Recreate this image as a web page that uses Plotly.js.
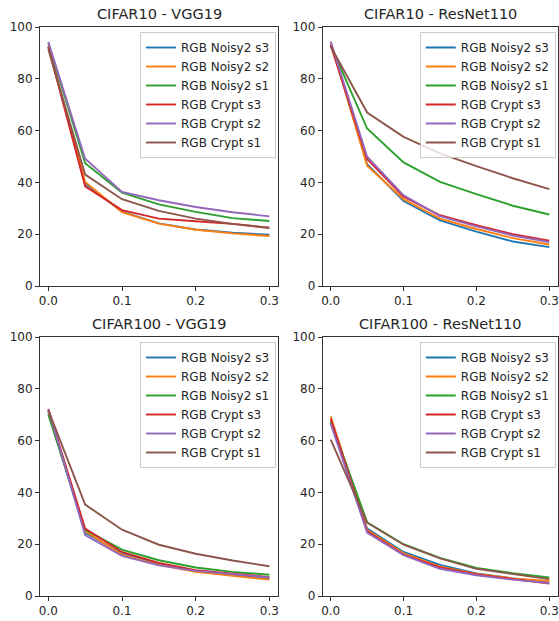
<!DOCTYPE html>
<html><head><meta charset="utf-8">
<script src="https://cdn.plot.ly/plotly-3.0.1.min.js"></script>
<style>html,body{margin:0;padding:0;background:#fff}</style>
</head><body><div id="chart" style="width:559px;height:621px"></div>
<script>
const xVals = [0, 0.05, 0.1, 0.15, 0.2, 0.25, 0.3];
const seriesNames = ["RGB Noisy2 s3","RGB Noisy2 s2","RGB Noisy2 s1","RGB Crypt s3","RGB Crypt s2","RGB Crypt s1"];
const panelTitles = ["CIFAR10 - VGG19","CIFAR10 - ResNet110","CIFAR100 - VGG19","CIFAR100 - ResNet110"];

// CIFAR10 - VGG19
const c10vgg_noisy_s3 = [92.5, 39.5, 28.7, 24.2, 21.8, 20.6, 19.8];
const c10vgg_noisy_s2 = [92.8, 40.2, 28.5, 24.1, 21.7, 20.3, 19.3];
const c10vgg_noisy_s1 = [93.8, 47.4, 36.0, 31.5, 28.6, 26.2, 25.1];
const c10vgg_crypt_s3 = [92.3, 38.5, 29.3, 26.0, 25.0, 24.0, 22.5];
const c10vgg_crypt_s2 = [94.2, 49.1, 36.3, 33.1, 30.5, 28.5, 26.9];
const c10vgg_crypt_s1 = [91.4, 43.0, 33.5, 29.0, 26.0, 24.0, 22.4];

// CIFAR10 - ResNet110
const c10res_noisy_s3 = [94.0, 47.0, 32.8, 25.3, 21.0, 17.2, 15.0];
const c10res_noisy_s2 = [94.2, 46.4, 33.5, 26.0, 22.0, 18.5, 16.0];
const c10res_noisy_s1 = [93.0, 60.8, 47.7, 40.2, 35.5, 31.0, 27.6];
const c10res_crypt_s3 = [93.0, 49.0, 34.5, 27.3, 23.5, 20.0, 17.5];
const c10res_crypt_s2 = [94.4, 49.9, 35.0, 27.0, 23.0, 19.5, 17.0];
const c10res_crypt_s1 = [92.5, 67.0, 57.6, 51.2, 46.3, 41.6, 37.4];

// CIFAR100 - VGG19
const c100vgg_noisy_s3 = [71.0, 24.5, 16.5, 12.5, 9.7, 8.0, 6.8];
const c100vgg_noisy_s2 = [71.5, 25.0, 16.0, 12.0, 9.3, 7.7, 6.3];
const c100vgg_noisy_s1 = [70.0, 25.5, 17.9, 13.8, 11.0, 9.3, 8.2];
const c100vgg_crypt_s3 = [72.0, 26.0, 17.0, 12.8, 10.0, 8.7, 7.3];
const c100vgg_crypt_s2 = [72.3, 23.5, 15.5, 11.8, 9.7, 8.5, 7.2];
const c100vgg_crypt_s1 = [71.8, 35.3, 25.6, 19.8, 16.3, 13.7, 11.5];

// CIFAR100 - ResNet110
const c100res_noisy_s3 = [67.0, 26.0, 17.0, 12.0, 8.7, 6.8, 5.3];
const c100res_noisy_s2 = [69.3, 25.5, 16.5, 11.3, 8.5, 6.8, 5.8];
const c100res_noisy_s1 = [67.5, 28.5, 20.0, 14.7, 10.8, 8.8, 7.2];
const c100res_crypt_s3 = [68.5, 25.0, 16.0, 11.0, 8.3, 6.5, 4.8];
const c100res_crypt_s2 = [66.5, 24.5, 15.8, 10.5, 8.0, 6.3, 5.0];
const c100res_crypt_s1 = [60.4, 28.3, 19.8, 14.5, 10.5, 8.5, 6.5];

const xTickVals = [0, 0.1, 0.2, 0.3];
const xTickText = ["0.0", "0.1", "0.2", "0.3"];
const yTickVals = [0, 20, 40, 60, 80, 100];

const panels = [
  [c10vgg_noisy_s3, c10vgg_noisy_s2, c10vgg_noisy_s1, c10vgg_crypt_s3, c10vgg_crypt_s2, c10vgg_crypt_s1],
  [c10res_noisy_s3, c10res_noisy_s2, c10res_noisy_s1, c10res_crypt_s3, c10res_crypt_s2, c10res_crypt_s1],
  [c100vgg_noisy_s3, c100vgg_noisy_s2, c100vgg_noisy_s1, c100vgg_crypt_s3, c100vgg_crypt_s2, c100vgg_crypt_s1],
  [c100res_noisy_s3, c100res_noisy_s2, c100res_noisy_s1, c100res_crypt_s3, c100res_crypt_s2, c100res_crypt_s1]
];
const colors = ["#1f77b4","#ff7f0e","#2ca02c","#d62728","#9467bd","#8c564b"];

const W = 559, H = 621;
// pixel boxes [left, right, top, bottom]
const boxes = [[40, 278, 27, 286],[322.7, 557.8, 27, 286],[40, 278, 337, 596],[322.7, 557.8, 337, 596]];
const xRanges = [[-0.0113, 0.3117],[-0.011, 0.3117],[-0.0113, 0.3117],[-0.011, 0.3117]];

const traces = [];
const layout = {
  width: W, height: H,
  margin: {l:0, r:0, t:0, b:0},
  paper_bgcolor: "#fff", plot_bgcolor: "#fff",
  font: {family: "DejaVu Sans", size: 12, color: "#262626"},
  annotations: []
};
panels.forEach((p, i) => {
  const n = i + 1;
  const xa = n === 1 ? "x" : "x" + n, ya = n === 1 ? "y" : "y" + n;
  const lg = n === 1 ? "legend" : "legend" + n;
  p.forEach((vals, k) => {
    traces.push({x: xVals, y: vals, type: "scatter", mode: "lines", name: seriesNames[k],
      xaxis: xa, yaxis: ya, legend: lg, line: {color: colors[k], width: 1.9}});
  });
  const b = boxes[i];
  const axCommon = {showline: true, mirror: true, linecolor: "#333", linewidth: 1, ticks: "outside",
    ticklen: 4, tickcolor: "#333", showgrid: false, zeroline: false, tickfont: {size: 12, color: "#262626"}};
  layout["xaxis" + (n === 1 ? "" : n)] = Object.assign({}, axCommon, {
    domain: [b[0] / W, b[1] / W], range: xRanges[i], tickvals: xTickVals, ticktext: xTickText,
    anchor: ya});
  layout["yaxis" + (n === 1 ? "" : n)] = Object.assign({}, axCommon, {
    domain: [(H - b[3]) / H, (H - b[2]) / H], range: [0, 100], tickvals: yTickVals, anchor: xa});
  layout[lg] = {x: (b[1] - 2) / W, xanchor: "right", y: (H - b[2] - 5) / H, yanchor: "top",
    bgcolor: "rgba(255,255,255,0.8)", bordercolor: "#ccc", borderwidth: 1,
    font: {size: 12, color: "#262626"}, tracegroupgap: 0};
  layout.annotations.push({text: panelTitles[i], xref: "paper", yref: "paper",
    x: (b[0] + b[1]) / 2 / W, y: (H - b[2] + 13) / H, xanchor: "center", yanchor: "middle",
    showarrow: false, font: {size: 14.5, color: "#262626"}});
});
Plotly.newPlot("chart", traces, layout, {displayModeBar: false, staticPlot: true});
</script>
</body></html>
